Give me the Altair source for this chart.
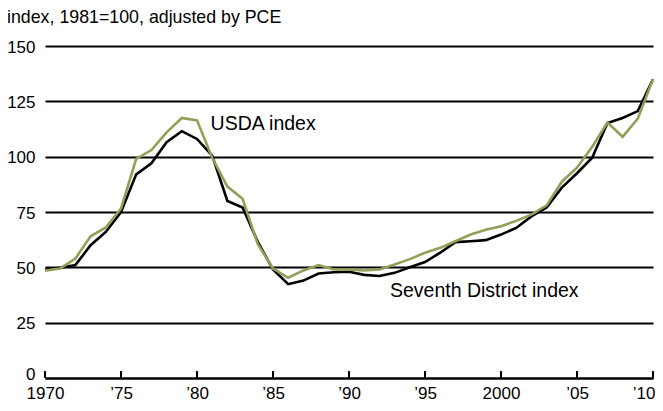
import altair as alt
import pandas as pd

years = list(range(1970, 2011))
seventh = [49, 49.8, 51, 60, 66, 75, 92, 97, 106.5, 111.5, 108, 100.5, 80, 77, 61.5,
           49, 42.4, 44, 47.2, 47.8, 48, 46.6, 46.1, 47.5, 50, 52.4, 56.6, 61.4, 61.8, 62.3,
           64.8, 67.8, 73, 77, 86, 92.5, 99.5, 115.2, 117.5, 120.6, 135]
usda = [48.5, 49.5, 54, 64, 68, 76.5, 99, 103, 111, 117.5, 116.4, 99.5, 86.5, 81, 60.5,
        49.5, 45.3, 48.6, 51, 49, 49, 48.6, 49, 51.3, 53.7, 56.6, 58.8, 61.8, 64.8, 67,
        68.6, 71, 73.8, 78, 88.7, 95, 104.5, 115.4, 109, 117.2, 135]

x_tick_values = [1970, 1975, 1980, 1985, 1990, 1995, 2000, 2005, 2010]
x_tick_labels = ["1970", "\u201975", "\u201980", "\u201985", "\u201990", "\u201995", "2000", "\u201905", "\u201910"]
y_tick_values = [0, 25, 50, 75, 100, 125, 150]

title_text = "index, 1981=100, adjusted by PCE"
labels = ["USDA index", "Seventh District index"]
label_years = [1984.35, 1998.9]
label_values = [111.9, 36.8]

FONT = "Liberation Sans"
GREEN = "#939f58"

df = pd.DataFrame({
    "year": years * 2,
    "value": seventh + usda,
    "series": ["Seventh"] * len(years) + ["USDA"] * len(years),
})

x_scale = alt.Scale(domain=[1970, 2010], nice=False, zero=False)
y_scale = alt.Scale(domain=[0, 150], nice=False)

label_expr = "[" + ",".join("'" + s + "'" for s in x_tick_labels) + "][round((datum.value-1970)/5)]"

x_axis = alt.Axis(values=x_tick_values, labelExpr=label_expr, grid=False, domain=True,
                  domainColor="black", domainWidth=2, ticks=False, labelPadding=7,
                  labelFontSize=17, labelFont=FONT, labelColor="black", title=None,
                  labelFlush=False, labelBound=False,
                  labelAlign={"condition": {"test": "datum.value >= 2010", "value": "right"}, "value": "center"},
                  labelOffset={"condition": {"test": "datum.value >= 2010", "value": 2}, "value": 0})
y_axis = alt.Axis(values=y_tick_values, grid=True, gridColor="black", gridWidth=2,
                  gridOpacity=1, domain=False, ticks=False, labelPadding=10,
                  labelFontSize=17, labelFont=FONT, labelColor="black", title=None,
                  labelOffset={"condition": {"test": "datum.value == 0", "value": -4}, "value": 1})

base = alt.Chart(df)

lines = base.mark_line(strokeWidth=2.6).encode(
    x=alt.X("year:Q", scale=x_scale, axis=x_axis),
    y=alt.Y("value:Q", scale=y_scale, axis=y_axis),
    color=alt.Color("series:N", scale=alt.Scale(domain=["Seventh", "USDA"], range=["black", GREEN]), legend=None),
    order=alt.Order("series:N"),
)

ticks_df = pd.DataFrame({"year": x_tick_values, "y0": [0] * len(x_tick_values), "y1": [3.2] * len(x_tick_values)})
ticks = alt.Chart(ticks_df).mark_rule(color="black", strokeWidth=2).encode(
    x=alt.X("year:Q", scale=x_scale),
    y=alt.Y("y0:Q", scale=y_scale),
    y2="y1:Q",
)

lab_df = pd.DataFrame({"year": label_years, "value": label_values, "text": labels})
annot = alt.Chart(lab_df).mark_text(font=FONT, fontSize=19.5, color="black", align="center", baseline="alphabetic").encode(
    x=alt.X("year:Q", scale=x_scale),
    y=alt.Y("value:Q", scale=y_scale),
    text="text:N",
)

title_df = pd.DataFrame({"t": [title_text]})
title = alt.Chart(title_df).mark_text(font=FONT, fontSize=17.8, color="black", align="left", baseline="alphabetic").encode(
    x=alt.value(-38), y=alt.value(-23.5), text="t:N"
)

chart = alt.layer(lines, ticks, annot, title).properties(
    width=608, height=332,
    padding={"left": 37, "top": 38, "right": 2, "bottom": 25},
    autosize="none",
).configure_view(stroke=None)

chart.save("out.html", embed_options={"renderer": "svg", "actions": False})
